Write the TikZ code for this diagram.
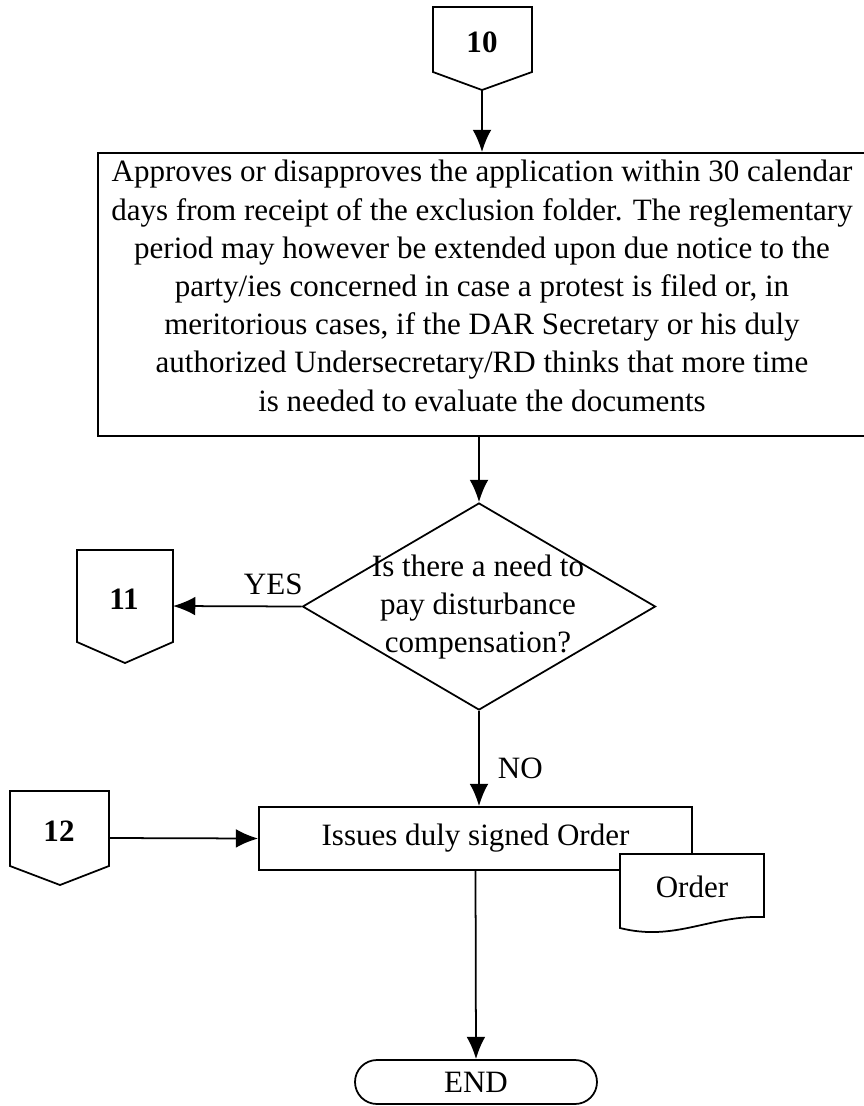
\documentclass[tikz,border=0pt]{standalone}
\usepackage{fontspec}
\setmainfont{Liberation Serif}
\usetikzlibrary{arrows.meta, shapes.geometric, shapes.misc}
\tikzset{>={Latex[length=19pt,width=16pt]}}
\tikzset{
	every node/.style={font=\fontsize{26.5}{32.6}\selectfont},
	thick line/.style={line width=1.5pt},
	box/.style={draw, thick line, rectangle, inner sep=0pt, align=center},
	conlabel/.style={font=\fontsize{26.5}{32.6}\selectfont\bfseries},
}

\begin{document}
\begin{tikzpicture}[x=0.03cm, y=-0.03cm]
		\path[use as bounding box] (0,0) rectangle (864,1106);
		\clip (0,0) rectangle (864,1106);

		% off-page connectors
		\node[conlabel] (n10) at (482,42) {10};
		\coordinate (t10) at (482,90);
		\draw[thick line] (433,7) -- (532,7) -- (532,72) -- (t10) -- (433,72) -- cycle;

		\node[conlabel] (n11) at (124,599) {11};
		\coordinate (r11) at (173,606);
		\draw[thick line] (77,550) -- (173,550) -- (173,642) -- (125,663) -- (77,642) -- cycle;

		\node[conlabel] (n12) at (59,831) {12};
		\coordinate (r12) at (109,838);
		\draw[thick line] (10,791) -- (109,791) -- (109,866) -- (60,885) -- (10,866) -- cycle;

		% main steps
		\node[box, text depth=15pt, minimum width=23.04cm, minimum height=8.49cm] (approve) at (482,294.5)
			{Approves or disapproves the application within 30 calendar\\
			 days from receipt of the exclusion folder. The reglementary\\
			 period may however be extended upon due notice to the\\
			 party/ies concerned in case a protest is filed or, in\\
			 meritorious cases, if the DAR Secretary or his duly\\
			 authorized Undersecretary/RD thinks that more time\\
			 is needed to evaluate the documents};

		\node[draw, thick line, diamond, inner sep=0pt, minimum width=10.59cm, minimum height=6.21cm] (need) at (479,606.5) {};
		\node[align=center, inner sep=0pt] (needtext) at (478,607)
			{Is there a need to\\ pay disturbance\\ compensation?};

		\node[box, minimum width=12.99cm, minimum height=1.89cm] (issue) at (475.5,838.5)
			{Issues duly signed Order};

		% the Order document
		\draw[thick line, fill=white] (620,854) -- (764,854) -- (764,917)
			.. controls (710,915) and (675,942) .. (620,928) -- cycle;
		\node (order) at (692,887) {Order};

		\node[draw, thick line, rounded rectangle, inner sep=0pt, minimum width=7.26cm, minimum height=1.32cm] (stop) at (476,1082) {END};

		% connectors
		\draw[thick line, ->] (t10) -- (t10 |- approve.north);
		\draw[thick line, ->] (approve.south -| need.north) -- (need.north);
		\draw[thick line, ->] (need.west) -- (r11) node[pos=0.22, above=6pt] (yes) {YES};
		\draw[thick line, ->] (need.south) -- (need.south |- issue.north) node[pos=0.6, right=12pt] (no) {NO};
		\draw[thick line, ->] (r12) -- (issue.west);
		\draw[thick line, ->] (issue.south) -- (stop.north);

	\end{tikzpicture}
\end{document}
